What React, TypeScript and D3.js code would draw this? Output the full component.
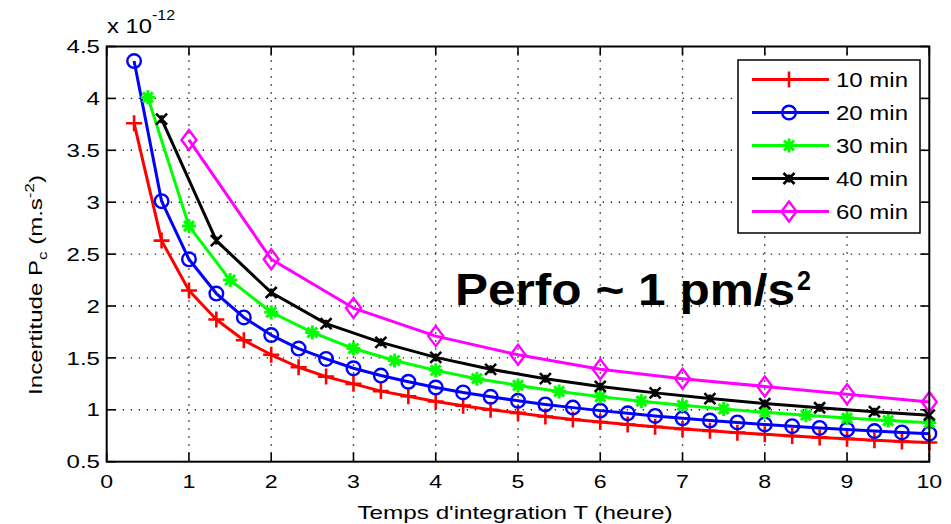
import React from "react";
import * as d3 from "d3";

const W = 951;
const H = 524;

const xTicks = [0, 1, 2, 3, 4, 5, 6, 7, 8, 9, 10];
const yTicks = [0.5, 1, 1.5, 2, 2.5, 3, 3.5, 4, 4.5];
const yTickLabels = ["0.5", "1", "1.5", "2", "2.5", "3", "3.5", "4", "4.5"];

const t10 = [0.333, 0.667, 1, 1.333, 1.667, 2, 2.333, 2.667, 3, 3.333, 3.667, 4, 4.333, 4.667, 5, 5.333, 5.667, 6, 6.333, 6.667, 7, 7.333, 7.667, 8, 8.333, 8.667, 9, 9.333, 9.667, 10];
const v10 = [3.76, 2.63, 2.15, 1.87, 1.67, 1.53, 1.41, 1.32, 1.25, 1.18, 1.13, 1.08, 1.04, 1.0, 0.97, 0.935, 0.907, 0.882, 0.858, 0.836, 0.816, 0.797, 0.78, 0.764, 0.748, 0.734, 0.72, 0.707, 0.695, 0.685];

const t20 = [0.333, 0.667, 1, 1.333, 1.667, 2, 2.333, 2.667, 3, 3.333, 3.667, 4, 4.333, 4.667, 5, 5.333, 5.667, 6, 6.333, 6.667, 7, 7.333, 7.667, 8, 8.333, 8.667, 9, 9.333, 9.667, 10];
const v20 = [4.36, 3.01, 2.45, 2.12, 1.89, 1.72, 1.59, 1.49, 1.4, 1.33, 1.27, 1.215, 1.167, 1.125, 1.087, 1.052, 1.021, 0.992, 0.966, 0.941, 0.918, 0.897, 0.878, 0.859, 0.842, 0.825, 0.81, 0.795, 0.782, 0.77];

const t30 = [0.5, 1, 1.5, 2, 2.5, 3, 3.5, 4, 4.5, 5, 5.5, 6, 6.5, 7, 7.5, 8, 8.5, 9, 9.5, 10];
const v30 = [4.01, 2.77, 2.25, 1.94, 1.745, 1.59, 1.475, 1.38, 1.3, 1.235, 1.177, 1.127, 1.083, 1.043, 1.008, 0.976, 0.947, 0.92, 0.896, 0.875];

const t40 = [0.667, 1.333, 2, 2.667, 3.333, 4, 4.667, 5.333, 6, 6.667, 7.333, 8, 8.667, 9.333, 10];
const v40 = [3.8, 2.63, 2.13, 1.83, 1.65, 1.505, 1.39, 1.3, 1.225, 1.163, 1.108, 1.06, 1.02, 0.982, 0.948];

const t60 = [1, 2, 3, 4, 5, 6, 7, 8, 9, 10];
const v60 = [3.6, 2.45, 1.98, 1.71, 1.53, 1.39, 1.3, 1.225, 1.15, 1.075];

const seriesNames = ["10 min", "20 min", "30 min", "40 min", "60 min"];
const seriesColors = ["#ff0000", "#0000ff", "#00ff00", "#000000", "#ff00ff"];
const seriesMarkers = ["plus", "circle", "asterisk", "x", "diamond"];
const seriesT = [t10, t20, t30, t40, t60];
const seriesV = [v10, v20, v30, v40, v60];

const L = 106.7, R = 929.3, T = 46.5, B = 461.7;
const FONT = "'Liberation Sans', Arial, Helvetica, sans-serif";

function Marker({ kind, x, y, color }: { kind: string; x: number; y: number; color: string }) {
  if (kind === "plus") {
    const s = 8;
    return <path d={`M${x - s},${y}H${x + s}M${x},${y - s}V${y + s}`} stroke={color} strokeWidth={2.6} fill="none" />;
  }
  if (kind === "circle") {
    return <circle cx={x} cy={y} r={6.8} stroke={color} strokeWidth={2.4} fill="none" />;
  }
  if (kind === "asterisk") {
    const s = 7, d = 5;
    return (
      <path
        d={`M${x - s},${y}H${x + s}M${x},${y - s}V${y + s}M${x - d},${y - d}L${x + d},${y + d}M${x - d},${y + d}L${x + d},${y - d}`}
        stroke={color}
        strokeWidth={3}
        fill="none"
      />
    );
  }
  if (kind === "x") {
    const d = 5.5;
    return (
      <path
        d={`M${x - d},${y - d}L${x + d},${y + d}M${x - d},${y + d}L${x + d},${y - d}M${x},${y - 4}V${y + 4}`}
        stroke={color}
        strokeWidth={2.6}
        fill="none"
      />
    );
  }
  return (
    <path d={`M${x},${y - 10}L${x + 7.5},${y}L${x},${y + 10}L${x - 7.5},${y}Z`} stroke={color} strokeWidth={2.4} fill="none" />
  );
}

export default function App() {
  const xs = d3.scaleLinear().domain([0, 10]).range([L, R]);
  const ys = d3.scaleLinear().domain([0.5, 4.5]).range([B, T]);
  const line = d3
    .line<[number, number]>()
    .x((d) => xs(d[0]))
    .y((d) => ys(d[1]));

  const tickLen = 9;
  const legX = 738, legY = 60, legW = 182, legH = 173;
  const rowY = [79.5, 112.5, 145.5, 178.5, 211.5];

  return (
    <svg width={W} height={H} style={{ position: "absolute", left: 0, top: 0, background: "#fff" }} fontFamily={FONT}>
      <rect x={0} y={0} width={W} height={H} fill="#fff" />
      {/* grid */}
      <g stroke="#222" strokeWidth={1.4} strokeDasharray="1.4 6.6">
        {xTicks.slice(1, -1).map((t) => (
          <line key={"gx" + t} x1={xs(t)} x2={xs(t)} y1={B} y2={T} />
        ))}
        {yTicks.slice(1, -1).map((t) => (
          <line key={"gy" + t} x1={L} x2={R} y1={ys(t)} y2={ys(t)} />
        ))}
      </g>
      {/* ticks */}
      <g stroke="#000" strokeWidth={1.6}>
        {xTicks.map((t) => (
          <g key={"tx" + t}>
            <line x1={xs(t)} x2={xs(t)} y1={B} y2={B - tickLen} />
            <line x1={xs(t)} x2={xs(t)} y1={T} y2={T + tickLen} />
          </g>
        ))}
        {yTicks.map((t) => (
          <g key={"ty" + t}>
            <line x1={L} x2={L + tickLen} y1={ys(t)} y2={ys(t)} />
            <line x1={R} x2={R - tickLen} y1={ys(t)} y2={ys(t)} />
          </g>
        ))}
      </g>
      {/* series */}
      {seriesNames.map((name, i) => {
        const pts: [number, number][] = seriesT[i].map((t, j) => [t, seriesV[i][j]]);
        return (
          <g key={name}>
            <path d={line(pts) || ""} stroke={seriesColors[i]} strokeWidth={3} fill="none" strokeLinejoin="round" />
            {pts.map((p, j) => (
              <Marker key={j} kind={seriesMarkers[i]} x={xs(p[0])} y={ys(p[1])} color={seriesColors[i]} />
            ))}
          </g>
        );
      })}
      {/* frame */}
      <rect x={L} y={T} width={R - L} height={B - T} fill="none" stroke="#000" strokeWidth={2} />
      {/* tick labels */}
      <g fontSize={18.5} fill="#000">
        {xTicks.map((t) => (
          <text key={"lx" + t} textAnchor="middle" transform={`translate(${xs(t)},488) scale(1.25,1)`}>
            {String(t)}
          </text>
        ))}
        {yTicks.map((t, i) => (
          <text key={"ly" + t} textAnchor="end" transform={`translate(100,${ys(t) + 6.6}) scale(1.3,1)`}>
            {yTickLabels[i]}
          </text>
        ))}
      </g>
      {/* exponent */}
      <text x={107} y={33} fontSize={20.5} textLength={45} lengthAdjust="spacingAndGlyphs">x 10</text>
      <text x={152} y={20} fontSize={14} textLength={23} lengthAdjust="spacingAndGlyphs">-12</text>
      {/* axis titles */}
      <text x={515} y={519} fontSize={18.5} textAnchor="middle" textLength={315} lengthAdjust="spacingAndGlyphs">
        Temps d'integration T (heure)
      </text>
      <text transform={`translate(42,285) rotate(-90) scale(1.3,1)`} fontSize={18.5} textAnchor="middle">
        Incertitude P<tspan fontSize={13} dy={5}>c</tspan>
        <tspan dy={-5}> (m.s</tspan>
        <tspan fontSize={13} dy={-8}>-2</tspan>
        <tspan dy={8}>)</tspan>
      </text>
      {/* annotation */}
      <text x={455} y={305} fontSize={44} fontWeight="bold" textLength={340} lengthAdjust="spacingAndGlyphs">
        Perfo ~ 1 pm/s
      </text>
      <text x={797} y={290} fontSize={27} fontWeight="bold" textLength={14} lengthAdjust="spacingAndGlyphs">2</text>
      {/* legend */}
      <rect x={legX} y={legY} width={legW} height={legH} fill="#fff" stroke="#000" strokeWidth={1.5} />
      {seriesNames.map((name, i) => (
        <g key={"leg" + name}>
          <line x1={752} x2={829} y1={rowY[i]} y2={rowY[i]} stroke={seriesColors[i]} strokeWidth={3} />
          <Marker kind={seriesMarkers[i]} x={789} y={rowY[i]} color={seriesColors[i]} />
          <text x={836} y={rowY[i] + 7.5} fontSize={20} textLength={72} lengthAdjust="spacingAndGlyphs">
            {name}
          </text>
        </g>
      ))}
    </svg>
  );
}
